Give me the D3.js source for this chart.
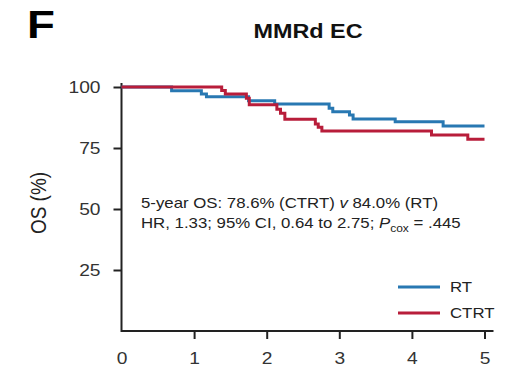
<!DOCTYPE html>
<html>
<head>
<meta charset="utf-8">
<script src="https://cdn.jsdelivr.net/npm/d3@7"></script>
<style>
  html, body { margin: 0; padding: 0; background: #fff; }
  svg { display: block; }
</style>
</head>
<body>
<div id="chart"></div>
<script>
// Kaplan-Meier OS, MMRd EC.
var xTicks = [0, 1, 2, 3, 4, 5];
var yTicks = [25, 50, 75, 100];

var rtTime = [0, 0.69, 1.10, 1.17, 1.75, 2.11, 2.86, 2.91, 3.14, 3.19, 3.77, 4.43, 5.0];
var rtSurv = [100, 98.5, 97.1, 96.0, 94.4, 93.0, 91.3, 89.9, 88.5, 86.9, 85.8, 84.0, 84.0];

var ctrtTime = [0, 1.38, 1.43, 1.72, 1.76, 2.14, 2.19, 2.25, 2.67, 2.71, 2.76, 4.27, 4.77, 5.0];
var ctrtSurv = [100, 98.6, 97.1, 95.4, 92.7, 90.9, 89.2, 86.8, 84.8, 83.5, 82.0, 80.3, 78.6, 78.6];

var seriesNames = ["RT", "CTRT"];
var COLORS = { RT: "#2878b2", CTRT: "#b81d3a" };
var FONT = "'Liberation Sans', Arial, Helvetica, sans-serif";
var SX = 1.2; // the source figure is stretched horizontally

(function () {
    "use strict";
    var width = 505, height = 367;
    var svg = d3.select("#chart").append("svg").attr("width", width).attr("height", height)
        .style("font-family", FONT);

    var x = d3.scaleLinear().domain([0, 5]).range([121.5, 484.5]);
    var y = d3.scaleLinear().domain([0, 100]).range([331, 87]);

    function label(px, py, str, size, opts) {
        opts = opts || {};
        return svg.append("text")
            .attr("transform", "translate(" + px + "," + py + ") scale(" + SX + ",1)")
            .attr("text-anchor", opts.anchor || "start")
            .style("font-size", size + "px")
            .style("font-weight", opts.bold ? "bold" : "normal")
            .style("fill", opts.fill || "#222")
            .text(str);
    }

    // panel letter + title
    label(27, 38, "F", 38, { bold: true, fill: "#000" });
    label(308, 38, "MMRd EC", 19.5, { bold: true, anchor: "middle", fill: "#111" });

    // y axis label
    svg.append("text")
        .attr("transform", "translate(46,203) rotate(-90) scale(1," + SX + ")")
        .attr("text-anchor", "middle")
        .style("font-size", "19px").style("fill", "#222")
        .text("OS (%)");

    // axes
    var xAxis = svg.append("g").attr("transform", "translate(0," + y(0) + ")")
        .call(d3.axisBottom(x).tickValues(xTicks).tickFormat(d3.format("d")).tickSize(8).tickPadding(14));
    var yAxis = svg.append("g").attr("transform", "translate(" + x(0) + ",0)")
        .call(d3.axisLeft(y).tickValues(yTicks).tickSize(8));
    [xAxis, yAxis].forEach(function (g) {
        g.select(".domain").remove();
        g.selectAll(".tick line").attr("stroke", "#222").attr("stroke-width", 2);
        g.selectAll(".tick text").style("font-size", "16px").style("font-family", FONT)
            .attr("fill", "#333").attr("transform", "scale(" + SX + ",1)");
    });
    xAxis.selectAll(".tick").filter(function (d) { return d === 0; }).select("line").remove();
    yAxis.selectAll(".tick text").attr("x", -21 / SX);

    svg.append("path")
        .attr("d", "M" + x(0) + "," + (y(100) - 4) + "V" + y(0) + "H" + (x(5) + 9))
        .attr("fill", "none").attr("stroke", "#222").attr("stroke-width", 2);

    // KM curves, CTRT drawn last so it sits on top
    var line = d3.line()
        .x(function (d) { return x(d[0]); })
        .y(function (d) { return y(d[1]); })
        .curve(d3.curveStepAfter);
    var series = [
        { name: "RT", pts: d3.zip(rtTime, rtSurv) },
        { name: "CTRT", pts: d3.zip(ctrtTime, ctrtSurv) }
    ];
    series.forEach(function (s) {
        svg.append("path").datum(s.pts).attr("d", line)
            .attr("fill", "none").attr("stroke", COLORS[s.name]).attr("stroke-width", 3);
    });

    // annotation
    var t1 = label(141, 208, "5-year OS: 78.6% (CTRT) ", 14);
    t1.append("tspan").style("font-style", "italic").text("v");
    t1.append("tspan").text(" 84.0% (RT)");

    var t2 = label(141, 228, "HR, 1.33; 95% CI, 0.64 to 2.75; ", 14);
    t2.append("tspan").style("font-style", "italic").text("P");
    t2.append("tspan").attr("dy", 4).style("font-size", "10px").text("cox");
    t2.append("tspan").attr("dy", -4).text(" = .445");

    // legend
    var legY = [287, 313];
    seriesNames.forEach(function (n, i) {
        svg.append("line").attr("x1", 398).attr("x2", 440).attr("y1", legY[i]).attr("y2", legY[i])
            .attr("stroke", COLORS[n]).attr("stroke-width", 3);
        label(450, legY[i] + 5, n, 14);
    });
})();
</script>
</body>
</html>
